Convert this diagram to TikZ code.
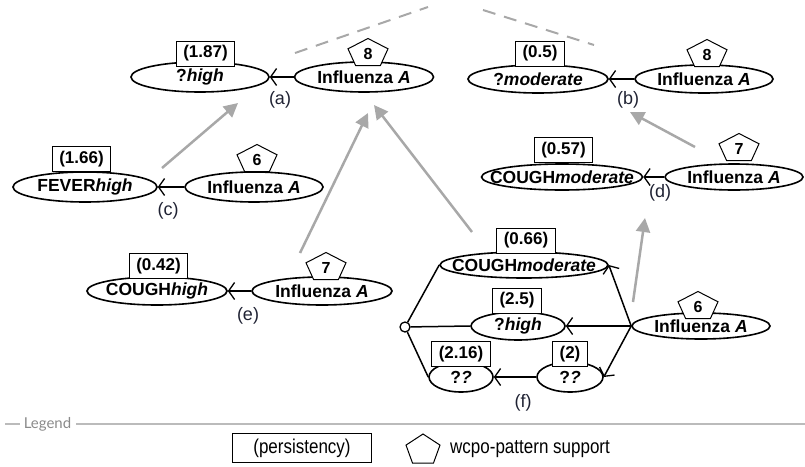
\documentclass[tikz,border=0pt]{standalone}
\usepackage{fontspec}
\usepackage{graphicx}
\setmainfont{Liberation Sans}
\newfontfamily\latofont{Lato}
\usetikzlibrary{shapes.geometric,arrows.meta}
\definecolor{gr}{HTML}{A8A8A8}
\definecolor{legc}{HTML}{BBBBBB}
\definecolor{legt}{HTML}{8A8A8A}
\definecolor{lbl}{HTML}{1F2233}
\tikzset{
  el/.style={ellipse, draw, line width=1.6pt, fill=white, inner sep=0pt, font=\fontsize{17.5}{20}\selectfont\bfseries},
  pbox/.style={rectangle, draw, line width=1pt, fill=white, minimum height=25pt, inner xsep=7pt, inner ysep=0pt, font=\fontsize{17}{20}\selectfont\bfseries},
  conn/.style={line width=1.5pt, -{Straight Barb[length=6pt,width=17pt,line width=1.3pt]}},
  plainln/.style={line width=1.5pt},
  garrow/.style={draw=gr, line width=2.5pt, -{Triangle[length=14pt,width=14pt,fill=gr]}},
  gdash/.style={draw=gr, line width=2pt, dash pattern=on 13pt off 9pt},
  lab/.style={font=\fontsize{18}{20}\selectfont, text=lbl, inner sep=0pt},
  pentnum/.style={font=\fontsize{16}{18}\selectfont\bfseries, inner sep=0pt},
  pent/.pic={\filldraw[fill=white, line width=1pt] (0,-13.5) -- (20,-3.2) -- (12.4,13.5) -- (-12.4,13.5) -- (-20,-3.2) -- cycle;
             \node[pentnum] (-n) at (0,1.5) {#1};},
  legline/.style={draw=legc, line width=1.3pt},
  legtxt/.style={font=\latofont\fontsize{15}{18}\selectfont, text=legt, inner sep=0pt},
  legbox/.style={rectangle, draw, line width=1pt, minimum width=139pt, minimum height=29pt, inner sep=0pt},
  legfont/.style={inner sep=0pt}
}
\begin{document}
\begin{tikzpicture}[x=1pt,y=-1pt]
\useasboundingbox (0,0) rectangle (805,466);

% gray dashed lines
\coordinate (da0) at (295,53); \coordinate (da1) at (428,7);
\coordinate (db0) at (483,10); \coordinate (db1) at (594,45);
\draw[gdash] (da0) -- (da1);
\draw[gdash] (db0) -- (db1);

% gray arrows
\coordinate (gc0) at (162,168); \coordinate (gc1) at (238,103);
\coordinate (ge0) at (300,253); \coordinate (ge1) at (368,113);
\coordinate (gf0) at (472,232); \coordinate (gf1) at (374,105);
\coordinate (gd0) at (695,147); \coordinate (gd1) at (630,112);
\coordinate (gg0) at (633,302); \coordinate (gg1) at (645,218);
\draw[garrow] (gc0) -- (gc1);
\draw[garrow] (ge0) -- (ge1);
\draw[garrow] (gf0) -- (gf1);
\draw[garrow] (gd0) -- (gd1);
\draw[garrow] (gg0) -- (gg1);

% (a)
\node[el, minimum width=138pt, minimum height=30pt] (a1) at (200,77) {\makebox[0pt]{?\textit{high}}};
\node[el, minimum width=139pt, minimum height=30pt] (a2) at (364,77) {\makebox[0pt]{Influenza \textit{A}}};
\node[pbox] (a1p) at (205.5,53.5) {(1.87)};
\pic (pa) at (368,52) {pent=8};
\draw[conn] (a2) -- (a1);
\node[lab] (la) at (280,100) {(a)};

% (b)
\node[el, minimum width=140pt, minimum height=28pt] (b1) at (538,79) {\makebox[0pt]{?\textit{moderate}}};
\node[el, minimum width=138pt, minimum height=28pt] (b2) at (704,79) {\makebox[0pt]{Influenza \textit{A}}};
\node[pbox] (b1p) at (540,53.5) {(0.5)};
\pic (pb) at (707,53) {pent=8};
\draw[conn] (b2) -- (b1);
\node[lab] (lb) at (628,100) {(b)};

% (c)
\node[el, minimum width=144pt, minimum height=30pt] (c1) at (85,187) {\makebox[0pt]{FEVER\textit{high}}};
\node[el, minimum width=138pt, minimum height=30pt] (c2) at (254,187) {\makebox[0pt]{Influenza \textit{A}}};
\node[pbox] (c1p) at (81.5,159) {(1.66)};
\pic (pc) at (257,158) {pent=6};
\draw[conn] (c2) -- (c1);
\node[lab] (lc) at (168,211) {(c)};

% (d)
\node[el, minimum width=161pt, minimum height=26pt] (d1) at (562,177) {\makebox[0pt]{COUGH\textit{moderate}}};
\node[el, minimum width=138pt, minimum height=26pt] (d2) at (734,177) {\makebox[0pt]{Influenza \textit{A}}};
\node[pbox] (d1p) at (563.5,150) {(0.57)};
\pic (pd) at (739,147) {pent=7};
\draw[conn] (d2) -- (d1);
\node[lab] (ld) at (660,193) {(d)};

% (e)
\node[el, minimum width=140pt, minimum height=28pt] (e1) at (157,291) {\makebox[0pt]{COUGH\textit{high}}};
\node[el, minimum width=140pt, minimum height=28pt] (e2) at (322,291) {\makebox[0pt]{Influenza \textit{A}}};
\node[pbox] (e1p) at (158.5,266) {(0.42)};
\pic (pe) at (326,266) {pent=7};
\draw[conn] (e2) -- (e1);
\node[lab] (le) at (248,316) {(e)};

% (f)
\node[el, minimum width=168pt, minimum height=26pt] (fcm) at (524,265) {\makebox[0pt]{COUGH\textit{moderate}}};
\node[el, minimum width=94pt, minimum height=28pt] (fh) at (518,326) {\makebox[0pt]{?\textit{high}}};
\node[el, minimum width=64pt, minimum height=30pt] (fq1) at (461,377) {\makebox[0pt]{?\textit{?}}};
\node[el, minimum width=66pt, minimum height=30pt] (fq2) at (570,377) {\makebox[0pt]{?\textit{?}}};
\node[el, minimum width=138pt, minimum height=26pt] (fi) at (701,326) {\makebox[0pt]{Influenza \textit{A}}};
\node[circle, draw, line width=1.3pt, fill=white, minimum size=10pt, inner sep=0pt] (fo) at (405,327) {};
\node[pbox] (fcmp) at (526,240.5) {(0.66)};
\node[pbox] (fhp) at (517,300.5) {(2.5)};
\node[pbox] (fq1p) at (461,354) {(2.16)};
\node[pbox] (fq2p) at (570,354) {(2)};
\pic (pf) at (698,305) {pent=6};
\draw[plainln] (fo) -- (fcm.west);
\draw[plainln] (fo) -- (fh.west);
\draw[plainln] (fo) -- (fq1.west);
\draw[conn] (fi.west) -- (fcm.east);
\draw[conn] (fi.west) -- (fh.east);
\draw[conn] (fi.west) -- (fq2.east);
\draw[conn] (fq2) -- (fq1);
\node[lab] (lf) at (523,403) {(f)};

% legend
\coordinate (lg0) at (5,424); \coordinate (lg1) at (20,424); \coordinate (lg2) at (805,424);
\node[legtxt] (lg) at (47.5,424) {Legend};
\coordinate (lg3) at (76,424);
\draw[legline] (lg0) -- (lg1);
\draw[legline] (lg3) -- (lg2);
\node[legbox] (lp) at (302,448) {\scalebox{0.85}[1]{\fontsize{20}{22}\selectfont (persistency)}};
\filldraw[fill=white, line width=1pt] (423,434) -- (440,445.1) -- (433.5,463) -- (412.5,463) -- (406,445.1) -- cycle;
\node[legfont, anchor=west] (ls) at (450,449) {\scalebox{0.85}[1]{\fontsize{20}{22}\selectfont wcpo-pattern support}};
\end{tikzpicture}
\end{document}
